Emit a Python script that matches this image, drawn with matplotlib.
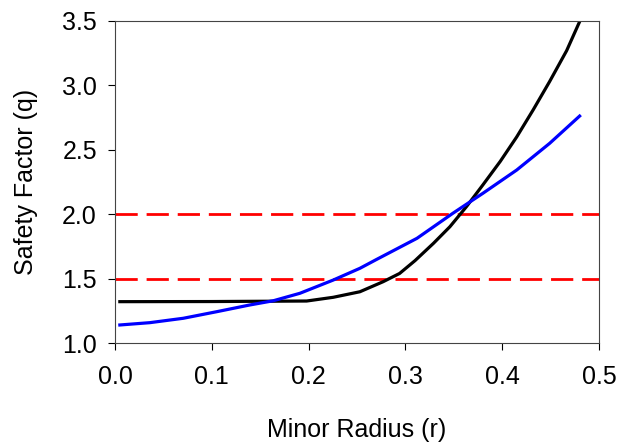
import matplotlib
matplotlib.use("Agg")
import matplotlib.pyplot as plt

plt.rcParams['font.family'] = ['Liberation Sans', 'DejaVu Sans']

# black profile
r_black = [0.005, 0.10, 0.198, 0.2255, 0.253, 0.277, 0.294, 0.310, 0.329, 0.346,
           0.363, 0.380, 0.398, 0.415, 0.432, 0.449, 0.4666, 0.480]
q_black = [1.321, 1.322, 1.326, 1.355, 1.398, 1.476, 1.54, 1.64, 1.774, 1.903,
           2.058, 2.227, 2.41, 2.60, 2.81, 3.03, 3.27, 3.495]

# blue profile
r_blue = [0.005, 0.036, 0.0705, 0.105, 0.139, 0.1635, 0.191, 0.2255, 0.253, 0.270,
          0.312, 0.349, 0.380, 0.415, 0.449, 0.480]
q_blue = [1.14, 1.158, 1.192, 1.243, 1.295, 1.328, 1.386, 1.489, 1.58, 1.648,
          1.813, 2.007, 2.162, 2.343, 2.55, 2.762]

q_limits = [1.5, 2.0]

fig = plt.figure(figsize=(6.2, 4.43), dpi=100)
ax = fig.add_axes([0.1855, 0.2257, 0.7806, 0.7269])

for q in q_limits:
    ax.axhline(q, color='#ff0000', lw=2, dashes=(8, 3.2))
ax.plot(r_black, q_black, color='black', lw=2.3)
ax.plot(r_blue, q_blue, color='#0000ff', lw=2.3)

ax.set_xlim(0, 0.5)
ax.set_ylim(1.0, 3.5)
ax.set_xticks([0.0, 0.1, 0.2, 0.3, 0.4, 0.5])
ax.set_yticks([1.0, 1.5, 2.0, 2.5, 3.0, 3.5])
ax.xaxis.set_major_formatter(matplotlib.ticker.FormatStrFormatter('%.1f'))
ax.yaxis.set_major_formatter(matplotlib.ticker.FormatStrFormatter('%.1f'))
ax.tick_params(direction='out', length=5, width=0.8, labelsize=18)
ax.tick_params(axis='x', pad=11)
ax.tick_params(axis='y', pad=8)
for s in ax.spines.values():
    s.set_linewidth(0.8)
    s.set_color('#444444')

ax.set_xlabel('Minor Radius (r)', fontsize=18, labelpad=21)
ax.set_ylabel('Safety Factor (q)', fontsize=18, labelpad=17)

fig.savefig('out.png', dpi=100)
